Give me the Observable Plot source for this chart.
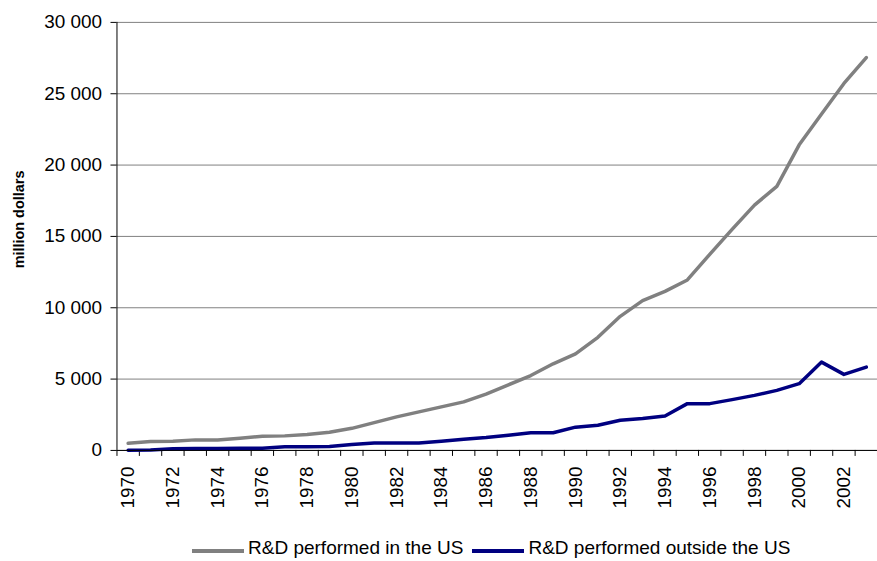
<!DOCTYPE html>
<html>
<head>
<meta charset="utf-8">
<script src="https://cdn.jsdelivr.net/npm/d3@7"></script>
<script src="https://cdn.jsdelivr.net/npm/@observablehq/plot@0.6"></script>
<style>
  html, body { margin: 0; padding: 0; background: #fff; overflow: hidden; }
  body { width: 877px; height: 561px; font-family: "Liberation Sans", Arial, sans-serif; }
  #chart svg { display: block; }
  .legend { position: relative; height: 22px; padding-top: 9px; display: flex; align-items: center; margin-left: 192px; font-size: 19px; color: #000; white-space: nowrap; }
  .legend .sw { width: 52px; height: 4px; position: relative; top: 3px; margin-right: 4px; }
  .legend .item { display: flex; align-items: center; margin-right: 9px; }
</style>
</head>
<body>
<div id="chart"></div>
<script>
// ---- data ----
const years = d3.range(1970, 2004);
const seriesNames = ["R&D performed in the US", "R&D performed outside the US"];
const seriesColors = ["#808080", "#000080"];
const usValues = [500, 620, 640, 740, 730, 850, 1000, 1020, 1120, 1270,
                  1550, 1950, 2350, 2700, 3050, 3400, 3950, 4600, 5250, 6070,
                  6770, 7930, 9400, 10500, 11150, 11950, 13740, 15490, 17190, 18510,
                  21420, 23580, 25720, 27530];
const outsideValues = [20, 30, 120, 140, 140, 150, 160, 260, 260, 280,
                       420, 520, 520, 520, 650, 790, 910, 1070, 1240, 1240,
                       1630, 1770, 2120, 2240, 2410, 3280, 3280, 3560, 3860, 4210,
                       4680, 6190, 5330, 5840];
const yTicks = [0, 5000, 10000, 15000, 20000, 25000, 30000];
const xLabelYears = years.filter(y => y % 2 === 0);
const yLabel = "million dollars";

// ---- build table ----
const data = [];
years.forEach((yr, i) => {
  data.push({year: yr, value: usValues[i], series: seriesNames[0]});
});
years.forEach((yr, i) => {
  data.push({year: yr, value: outsideValues[i], series: seriesNames[1]});
});
const xDomain = [years[0] - 0.5, years[years.length - 1] + 0.5];
const boundaries = d3.range(years.length + 1).map(k => xDomain[0] + k);
const fmt = d => d3.format(",d")(d).replace(/,/g, "\u00a0");

const font = "Liberation Sans, Arial, sans-serif";

const chart = Plot.plot({
  width: 881,
  height: 530,
  marginLeft: 117,
  marginRight: 0,
  marginTop: 22,
  marginBottom: 78,
  style: {fontFamily: font, fontSize: "19px", color: "#000", background: "#fff"},
  x: {domain: xDomain, axis: null},
  y: {domain: [0, 30000], axis: null},
  color: {domain: seriesNames, range: seriesColors},
  marks: [
    Plot.ruleY(yTicks, {stroke: "#808080", strokeWidth: 1}),
    Plot.axisY(yTicks, {tickSize: 6, tickPadding: 9, tickFormat: fmt, fontSize: 19, label: null, stroke: "#000", strokeOpacity: 1}),
    Plot.axisX(boundaries, {tickSize: 6, tickFormat: () => "", label: null, stroke: "#000", strokeOpacity: 1}),
    Plot.axisX(xLabelYears, {tickSize: 0, tickPadding: 16, tickRotate: -90, tickFormat: d => String(d), fontSize: 19, label: null}),
    Plot.line(data, {x: "year", y: "value", z: "series", stroke: "series", strokeWidth: 3.5, strokeLinejoin: "round", strokeLinecap: "round"}),
    Plot.ruleY([0], {stroke: "#000", strokeWidth: 1}),
    Plot.ruleX([xDomain[0]], {stroke: "#000", strokeWidth: 1}),
    Plot.text([yLabel], {frameAnchor: "left", dx: -98, dy: -17, rotate: -90, textAnchor: "middle", fontSize: 14.5, fontWeight: "bold", fill: "#000"})
  ]
});
document.getElementById("chart").appendChild(chart);

// ---- legend ----
const legend = document.createElement("div");
legend.className = "legend";
seriesNames.forEach((name, i) => {
  const item = document.createElement("div");
  item.className = "item";
  const sw = document.createElement("span");
  sw.className = "sw";
  sw.style.background = seriesColors[i];
  const label = document.createElement("span");
  label.textContent = name;
  item.appendChild(sw);
  item.appendChild(label);
  legend.appendChild(item);
});
document.body.appendChild(legend);
</script>
</body>
</html>
